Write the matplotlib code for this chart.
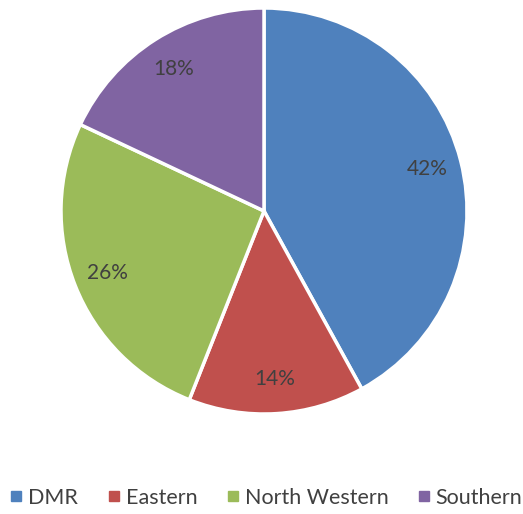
import matplotlib
matplotlib.use("Agg")
import matplotlib.pyplot as plt
from matplotlib.lines import Line2D

plt.rcParams['font.family'] = ['Lato', 'DejaVu Sans']

regions = ["DMR", "Eastern", "North Western", "Southern"]
shares = [42, 14, 26, 18]
colors = ["#4F81BD", "#C0504D", "#9BBB59", "#8064A2"]
text_color = "#404040"

W, H = 523, 514
fig = plt.figure(figsize=(W / 100, H / 100), dpi=100)
cx, cy, r = 264, 211, 203
ax = fig.add_axes([(cx - r) / W, (H - cy - r) / H, 2 * r / W, 2 * r / H])

wedges, texts, autotexts = ax.pie(
    shares, colors=colors, startangle=90, counterclock=False,
    autopct=lambda p: f"{p:.0f}%", pctdistance=0.83,
    wedgeprops=dict(edgecolor="white", linewidth=2.5),
    textprops=dict(color=text_color, fontsize=15),
)
ax.set_aspect("equal")
ax.set_xlim(-1.0, 1.0)
ax.set_ylim(-1.0, 1.0)

handles = [Line2D([], [], marker="s", linestyle="none", markersize=7,
                  markerfacecolor=c, markeredgecolor=c) for c in colors]
leg = fig.legend(handles, regions, loc="center", bbox_to_anchor=(0.51, 1 - 498 / H),
                 ncol=4, frameon=False, handlelength=0.5, handletextpad=0.3,
                 columnspacing=1.4, fontsize=15.5)
for t in leg.get_texts():
    t.set_color(text_color)

fig.savefig("out.png", dpi=100)
